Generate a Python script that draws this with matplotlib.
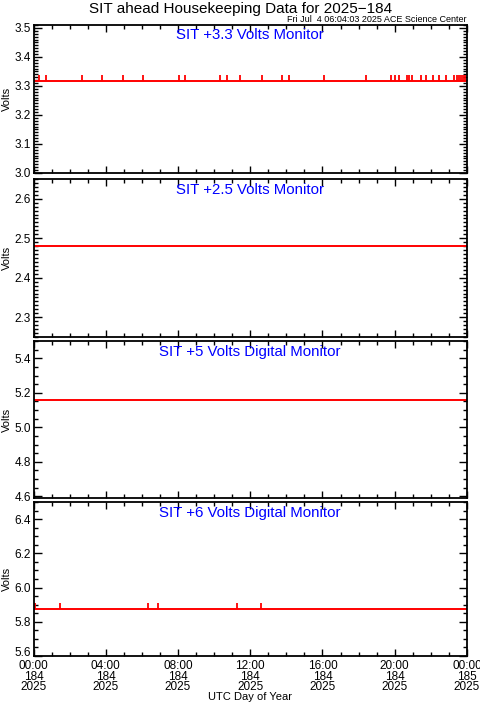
import matplotlib
matplotlib.use("Agg")
import matplotlib.pyplot as plt
import matplotlib.transforms as mtransforms
from matplotlib.ticker import MultipleLocator, FixedLocator, FuncFormatter
import numpy as np

plt.rcParams['font.family'] = ['Liberation Sans', 'DejaVu Sans']

# ---- data ----
panel_titles = ["SIT +3.3 Volts Monitor", "SIT +2.5 Volts Monitor",
                "SIT +5 Volts Digital Monitor", "SIT +6 Volts Digital Monitor"]
base_values = [3.318, 2.48, 5.16, 5.872]
spike_values = [3.338, 2.48, 5.16, 5.91]
spikes_p1 = [0.32, 0.69, 2.67, 3.78, 4.97, 6.08, 8.06, 8.39, 10.33, 10.70, 11.43,
             12.64, 13.78, 14.13, 16.09, 18.39, 19.79, 20.01, 20.24, 20.68, 20.79,
             20.93, 21.44, 21.73, 22.10, 22.47, 22.84, 23.28, 23.42, 23.56, 23.67,
             23.78, 23.89]
spikes_p2 = []
spikes_p3 = []
spikes_p4 = [0.08, 1.47, 6.36, 6.88, 11.25, 12.60]
spike_times = [spikes_p1, spikes_p2, spikes_p3, spikes_p4]
ylims = [(3.0, 3.51), (2.25, 2.65), (4.59, 5.5), (5.6, 6.5)]
ymajor = [0.1, 0.1, 0.2, 0.2]
yminor = [0.01, 0.01, 0.05, 0.05]
xtick_hours = [0, 4, 8, 12, 16, 20, 24]
xtick_labels = ["00:00\n184\n2025", "04:00\n184\n2025", "08:00\n184\n2025",
                "12:00\n184\n2025", "16:00\n184\n2025", "20:00\n184\n2025",
                "00:00\n185\n2025"]

W, H = 481, 706
fig = plt.figure(figsize=(W / 100, H / 100), dpi=100)

left_px, right_px = 33.5, 467
panels_px = [(25, 173), (179, 337), (341, 498), (502, 656)]

for i, (top, bot) in enumerate(panels_px):
    ax = fig.add_axes([left_px / W, 1 - bot / H, (right_px - left_px) / W, (bot - top) / H])
    ax.plot([0, 24], [base_values[i], base_values[i]], color='red', lw=1.4,
            solid_capstyle='butt')
    if spike_times[i]:
        ax.vlines(spike_times[i], base_values[i], spike_values[i], color='red', lw=1.3)
    ax.set_xlim(0, 24)
    ymin = ylims[i][0]
    ax.set_ylim(*ylims[i])
    ax.yaxis.set_major_locator(MultipleLocator(ymajor[i]))
    ax.yaxis.set_minor_locator(MultipleLocator(yminor[i]))
    if i < 3:
        ax.yaxis.set_major_formatter(matplotlib.ticker.FormatStrFormatter('%.1f'))
    else:
        # lowest label is drawn separately, nudged up as in the reference
        ax.yaxis.set_major_formatter(FuncFormatter(
            lambda v, p, lo=ymin: '' if abs(v - lo) < 1e-6 else '%.1f' % v))
        tr = mtransforms.blended_transform_factory(ax.transAxes, ax.transData) + \
            mtransforms.ScaledTranslation(-2 / 72, -3 / 100, fig.dpi_scale_trans)
        ax.text(0, ymin, '%.1f' % ymin, transform=tr, ha='right', va='bottom', fontsize=8.5)
    ax.xaxis.set_major_locator(FixedLocator(xtick_hours))
    ax.xaxis.set_minor_locator(MultipleLocator(1))
    ax.tick_params(axis='both', which='both', direction='in', top=True, right=True,
                   labelsize=8.5, width=1.0, color='black')
    ax.tick_params(axis='y', which='major', length=6)
    ax.tick_params(axis='y', which='minor', length=3)
    ax.tick_params(axis='x', which='major', length=5)
    ax.tick_params(axis='x', which='minor', length=3)
    ax.tick_params(axis='y', pad=2)
    for s in ax.spines.values():
        s.set_linewidth(1.3)
    ax.set_ylabel("Volts", fontsize=8)
    ax.yaxis.set_label_coords((11.5 - left_px) / (right_px - left_px), 0.5)
    ax.text(0.5, 0.93, panel_titles[i], transform=ax.transAxes, ha='center', va='center',
            color='#0000ff', fontsize=10.8)
    if i < 3:
        ax.set_xticklabels([])
    else:
        ax.set_xticklabels(xtick_labels, fontsize=8.5, linespacing=0.82)
        ax.tick_params(axis='x', pad=3)

fig.text(0.5, 1 - 9 / H, "SIT ahead Housekeeping Data for 2025\u2212184", ha='center',
         va='center', fontsize=11)
fig.text(right_px / W, 1 - 20 / H, "Fri Jul  4 06:04:03 2025 ACE Science Center",
         ha='right', va='center', fontsize=6.5)
fig.text(250 / W, 1 - 697 / H, "UTC Day of Year", ha='center', va='center', fontsize=8)

fig.savefig("out.png", dpi=100)
